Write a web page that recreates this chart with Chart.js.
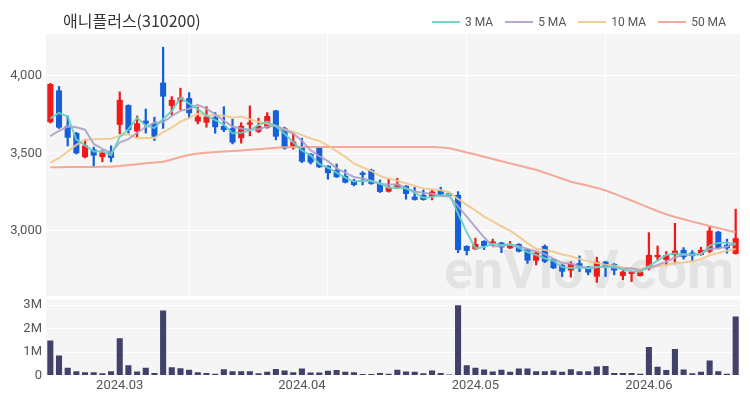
<!DOCTYPE html>
<html>
<head>
<meta charset="utf-8">
<script src="https://cdn.jsdelivr.net/npm/chart.js@4.4.1/dist/chart.umd.min.js"></script>
<style>
  html, body { margin:0; padding:0; background:#fff; width:750px; height:400px; overflow:hidden; }
  #wrap { position:relative; width:750px; height:400px; }
  #title { position:absolute; left:63px; top:9px; font:16px "Noto Sans CJK KR","Noto Sans",sans-serif; color:#333; line-height:22px; white-space:nowrap; }
  #legend { position:absolute; left:432px; top:13px; display:flex; align-items:center; font:12px Roboto,"Noto Sans",sans-serif; color:#555; line-height:18px; white-space:nowrap; }
  #legend .item { display:flex; align-items:center; margin-right:12px; }
  #legend .item:last-child { margin-right:0; }
  #legend .swatch { width:28px; height:2px; margin-right:5px; }
  #cPrice { position:absolute; left:0; top:0; }
  #cVol { position:absolute; left:0; top:296px; }
</style>
</head>
<body>
<div id="wrap">
  <canvas id="cPrice" width="750" height="298"></canvas>
  <canvas id="cVol" width="750" height="104"></canvas>
  <div id="title">애니플러스(310200)</div>
  <div id="legend"></div>
</div>
<script>
// ---- data ----
const dates = [
  '2024-02-20','2024-02-21','2024-02-22','2024-02-23','2024-02-26','2024-02-27','2024-02-28','2024-02-29',
  '2024-03-04','2024-03-05','2024-03-06','2024-03-07','2024-03-08','2024-03-11','2024-03-12','2024-03-13','2024-03-14','2024-03-15',
  '2024-03-18','2024-03-19','2024-03-20','2024-03-21','2024-03-22','2024-03-25','2024-03-26','2024-03-27','2024-03-28','2024-03-29',
  '2024-04-01','2024-04-02','2024-04-03','2024-04-04','2024-04-05','2024-04-08','2024-04-09','2024-04-11','2024-04-12',
  '2024-04-15','2024-04-16','2024-04-17','2024-04-18','2024-04-19','2024-04-22','2024-04-23','2024-04-24','2024-04-25','2024-04-26',
  '2024-04-29','2024-04-30',
  '2024-05-02','2024-05-03','2024-05-07','2024-05-08','2024-05-09','2024-05-10','2024-05-13','2024-05-14','2024-05-16','2024-05-17',
  '2024-05-20','2024-05-21','2024-05-22','2024-05-23','2024-05-24','2024-05-27','2024-05-28','2024-05-29','2024-05-30','2024-05-31',
  '2024-06-03','2024-06-04','2024-06-05','2024-06-07','2024-06-10','2024-06-11','2024-06-12','2024-06-13','2024-06-14','2024-06-17','2024-06-18'
];
const open = [3700,3905,3676,3630,3475,3525,3475,3515,3683,3810,
  3640,3710,3693,3955,3805,3833,3855,3704,3697,3732,
  3676,3661,3597,3685,3639,3665,3775,3661,3543,3543,
  3496,3536,3419,3393,3354,3324,3375,3393,3307,3253,
  3275,3290,3221,3232,3221,3260,3243,3232,2903,2882,
  2935,2916,2925,2888,2916,2882,2809,2903,2818,2781,
  2745,2792,2770,2706,2802,2788,2710,2723,2710,2760,
  2831,2813,2845,2878,2860,2845,2867,2995,2910,2852];
const high = [3950,3930,3740,3635,3590,3540,3520,3548,3895,3812,
  3740,3785,3732,4183,3865,3919,3891,3797,3800,3762,
  3800,3719,3697,3805,3726,3762,3777,3668,3629,3597,
  3498,3538,3421,3431,3393,3333,3382,3398,3328,3333,
  3339,3292,3281,3264,3264,3281,3247,3253,2905,2953,
  2937,2947,2927,2932,2918,2884,2867,2910,2820,2783,
  2802,2839,2772,2831,2805,2790,2745,2740,2740,2989,
  2903,2867,3049,2893,2873,2895,3024,2998,2947,3140];
const low = [3695,3660,3547,3495,3470,3415,3445,3445,3625,3628,
  3603,3630,3582,3660,3747,3779,3726,3689,3668,3629,
  3639,3560,3565,3612,3633,3661,3586,3526,3526,3440,
  3431,3408,3333,3344,3309,3290,3296,3300,3247,3250,
  3273,3204,3198,3198,3200,3230,3223,2860,2845,2880,
  2880,2903,2860,2886,2864,2791,2781,2796,2757,2706,
  2702,2738,2717,2669,2706,2717,2685,2674,2708,2749,
  2809,2781,2788,2818,2809,2843,2860,2885,2857,2850];
const close = [3946,3665,3600,3500,3550,3485,3505,3470,3844,3650,
  3693,3690,3607,3865,3844,3859,3758,3736,3736,3668,
  3650,3569,3676,3697,3676,3740,3607,3532,3575,3446,
  3440,3410,3372,3346,3311,3296,3361,3303,3251,3281,
  3303,3238,3200,3200,3253,3232,3226,2877,2871,2916,
  2903,2932,2894,2916,2867,2809,2860,2802,2760,2738,
  2788,2770,2732,2802,2770,2745,2738,2738,2738,2845,
  2845,2845,2873,2831,2838,2878,3002,2888,2888,2953];
const volume = [1490000,850000,330000,180000,140000,140000,100000,180000,1590000,440000,
  170000,330000,110000,2770000,350000,310000,240000,140000,110000,70000,
  270000,180000,180000,180000,100000,160000,280000,210000,140000,300000,
  130000,130000,200000,230000,160000,140000,60000,60000,110000,70000,
  240000,170000,160000,100000,210000,110000,40000,2990000,440000,330000,
  260000,170000,240000,160000,300000,300000,180000,180000,210000,160000,
  270000,180000,180000,380000,400000,110000,110000,110000,70000,1210000,
  370000,230000,1130000,260000,100000,160000,640000,180000,70000,2510000];
const ma3 = [3725,3760,3737,3588,3550,3512,3513,3487,3606,3655,
  3729,3678,3663,3721,3772,3856,3820,3784,3743,3713,
  3685,3629,3632,3647,3683,3704,3674,3626,3571,3518,
  3487,3432,3407,3376,3343,3318,3323,3320,3305,3278,
  3278,3274,3247,3213,3218,3228,3237,3112,2991,2888,
  2897,2917,2910,2914,2892,2864,2845,2824,2807,2767,
  2762,2765,2763,2768,2768,2772,2751,2740,2738,2774,
  2809,2845,2854,2850,2847,2849,2906,2923,2926,2910];
const ma5 = [3610,3645,3672,3668,3652,3560,3528,3502,3571,3591,
  3632,3669,3697,3701,3740,3773,3787,3812,3787,3751,
  3710,3672,3660,3652,3654,3672,3679,3650,3626,3580,
  3520,3481,3449,3403,3376,3347,3337,3323,3304,3298,
  3300,3275,3255,3244,3239,3225,3222,3158,3092,3024,
  2959,2900,2903,2912,2902,2884,2869,2851,2820,2794,
  2790,2772,2758,2766,2772,2764,2757,2759,2746,2761,
  2781,2802,2829,2848,2846,2853,2884,2887,2899,2922];
const ma10 = [3440,3468,3511,3554,3586,3590,3592,3594,3612,3622,
  3596,3599,3599,3636,3665,3703,3728,3755,3744,3746,
  3741,3729,3736,3719,3703,3691,3676,3655,3639,3617,
  3596,3580,3550,3514,3478,3434,3409,3386,3354,3337,
  3323,3306,3289,3274,3269,3262,3249,3206,3168,3132,
  3092,3061,3030,3002,2963,2921,2885,2877,2866,2848,
  2837,2820,2804,2793,2783,2777,2765,2758,2756,2767,
  2772,2780,2794,2797,2804,2817,2843,2858,2873,2884];
const ma50 = [3410,3410,3411,3411,3412,3412,3413,3414,3418,3424,
  3430,3435,3440,3446,3460,3476,3489,3498,3504,3508,
  3511,3515,3518,3522,3526,3531,3535,3538,3540,3540,
  3541,3541,3541,3541,3541,3541,3541,3541,3541,3541,
  3541,3541,3541,3541,3541,3538,3532,3520,3505,3492,
  3478,3463,3449,3435,3421,3407,3394,3375,3356,3336,
  3317,3304,3291,3277,3260,3240,3218,3196,3173,3150,
  3127,3107,3090,3075,3060,3046,3032,3018,3004,2992];
const priceTicks = [3000, 3500, 4000];
const volumeTicks = [0, 1000000, 2000000, 3000000];
const monthTickIndex = [8, 29, 49, 69];
const monthTickLabel = ['2024.03', '2024.04', '2024.05', '2024.06'];
const priceGridIndex = [16, 32, 48, 64];
const maSeries = [
  { label:'3 MA', data:ma3, color:'rgba(100,210,195,0.9)' },
  { label:'5 MA', data:ma5, color:'rgba(175,160,200,0.9)' },
  { label:'10 MA', data:ma10, color:'rgba(242,200,140,0.9)' },
  { label:'50 MA', data:ma50, color:'rgba(245,160,140,0.9)' }
];

// ---- styles ----
const UP = '#f01a1a', DOWN = '#1560d8', VOLC = '#41416a';
const PLOT_BG = '#f5f5f5', GRID = '#ffffff', TICK = '#555';
const TICK_FONT = { family:'Roboto, "Noto Sans", sans-serif', size:13 };

const candleColors = close.map((c, i) => c >= open[i] ? UP : DOWN);

const bgPlugin = {
  id:'plotBg',
  beforeDraw(chart) {
    const a = chart.chartArea, ctx = chart.ctx;
    ctx.save(); ctx.fillStyle = PLOT_BG;
    ctx.fillRect(a.left, a.top, a.right - a.left, a.bottom - a.top);
    ctx.restore();
  }
};
const watermark = {
  id:'watermark',
  beforeDatasetsDraw(chart) {
    const a = chart.chartArea, ctx = chart.ctx;
    ctx.save();
    ctx.font = 'bold 54px Roboto, "Noto Sans", sans-serif';
    ctx.fillStyle = 'rgba(0,0,0,0.07)';
    ctx.textAlign = 'right'; ctx.textBaseline = 'alphabetic';
    ctx.fillText('enVioV.com', a.right - 6, a.bottom - 8);
    ctx.restore();
  }
};
const noPad = s => { s.paddingTop = 0; s.paddingBottom = 0; };

// legend (HTML)
const legendEl = document.getElementById('legend');
maSeries.forEach(s => {
  const it = document.createElement('div'); it.className = 'item';
  const sw = document.createElement('div'); sw.className = 'swatch'; sw.style.background = s.color;
  const tx = document.createElement('span'); tx.textContent = s.label;
  it.appendChild(sw); it.appendChild(tx); legendEl.appendChild(it);
});

// ---- price chart ----
new Chart(document.getElementById('cPrice'), {
  type:'bar',
  data:{
    labels:dates,
    datasets:[
      ...maSeries.map(s => ({
        type:'line', label:s.label, data:s.data, borderColor:s.color, borderWidth:2,
        pointRadius:0, tension:0, order:0, yAxisID:'y'
      })),
      { type:'bar', label:'body', data:open.map((o, i) => [o, close[i]]),
        backgroundColor:candleColors, borderWidth:0, barPercentage:0.7, categoryPercentage:1,
        grouped:false, minBarLength:2, order:1, yAxisID:'y' },
      { type:'bar', label:'wick', data:low.map((l, i) => [l, high[i]]),
        backgroundColor:candleColors, borderWidth:0, barThickness:1.6,
        grouped:false, order:2, yAxisID:'y' }
    ]
  },
  options:{
    responsive:false, animation:false, devicePixelRatio:1,
    layout:{ padding:{ left:0, right:10, top:34, bottom:0 } },
    plugins:{ legend:{ display:false }, tooltip:{ enabled:false } },
    scales:{
      x:{
        offset:true,
        grid:{ offset:false, color:GRID, drawTicks:false, lineWidth:1 },
        border:{ display:false },
        ticks:{ display:false },
        afterBuildTicks:s => { s.ticks = priceGridIndex.map(v => ({ value:v })); },
        afterFit:s => { s.height = 2; s.paddingLeft = 0; s.paddingRight = 0; }
      },
      y:{
        min:2581, max:4268,
        grid:{ color:GRID, drawTicks:false },
        border:{ display:false },
        ticks:{ color:TICK, font:TICK_FONT, padding:4,
          callback:v => v.toLocaleString('en-US') },
        afterBuildTicks:s => { s.ticks = priceTicks.map(v => ({ value:v })); },
        afterFit:s => { s.width = 46; noPad(s); }
      }
    }
  },
  plugins:[bgPlugin, watermark]
});

// ---- volume chart ----
new Chart(document.getElementById('cVol'), {
  type:'bar',
  data:{
    labels:dates,
    datasets:[{ label:'Volume', data:volume, backgroundColor:VOLC, borderWidth:0,
      barPercentage:0.7, categoryPercentage:1 }]
  },
  options:{
    responsive:false, animation:false, devicePixelRatio:1,
    layout:{ padding:{ left:0, right:10, top:3.5, bottom:0 } },
    plugins:{ legend:{ display:false }, tooltip:{ enabled:false } },
    scales:{
      x:{
        offset:true,
        grid:{ display:false, drawTicks:false },
        border:{ display:false },
        ticks:{ color:TICK, font:TICK_FONT, padding:2, autoSkip:false, maxRotation:0,
          callback:v => { const k = monthTickIndex.indexOf(v); return k >= 0 ? monthTickLabel[k] : ''; } },
        afterBuildTicks:s => { s.ticks = monthTickIndex.map(v => ({ value:v })); },
        afterFit:s => { s.height = 24.5; s.paddingLeft = 0; s.paddingRight = 0; }
      },
      y:{
        min:0, max:3240000,
        grid:{ color:GRID, drawTicks:false },
        border:{ display:false },
        ticks:{ color:TICK, font:TICK_FONT, padding:4,
          callback:v => v === 0 ? '0' : (v / 1000000) + 'M' },
        afterBuildTicks:s => { s.ticks = volumeTicks.map(v => ({ value:v })); },
        afterFit:s => { s.width = 46; noPad(s); }
      }
    }
  },
  plugins:[bgPlugin]
});
</script>
</body>
</html>
